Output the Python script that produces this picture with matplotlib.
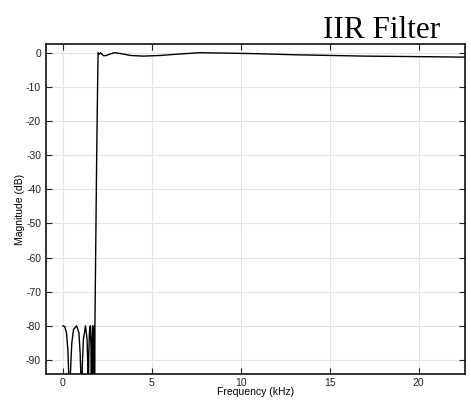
import matplotlib
matplotlib.use('Agg')
from matplotlib import pyplot as plt

# frequency (kHz) and magnitude (dB)
freq_khz = [0.0, 0.10, 0.20, 0.28, 0.33, 0.37, 0.42, 0.50, 0.60, 0.77, 0.90, 0.97, 1.02, 1.05,
            1.09, 1.15, 1.27, 1.36, 1.40, 1.42, 1.45, 1.49, 1.54, 1.58, 1.61, 1.63, 1.67,
            1.70, 1.72, 1.74, 1.76, 1.78, 1.80, 1.84, 1.90, 1.95, 1.98,
            2.05, 2.12, 2.20, 2.30, 2.45, 2.65, 2.90, 3.30, 3.80, 4.50, 5.50, 6.50, 7.70,
            9.0, 11.0, 13.0, 15.0, 17.0, 19.0, 21.0, 22.6]
mag_db = [-80.0, -80.2, -82.0, -87.0, -95.0, -130.0, -94.0, -85.0, -81.0, -80.0, -82.0, -88.0, -96.0, -130.0,
          -92.0, -84.0, -80.0, -84.0, -92.0, -130.0, -90.0, -82.0, -80.0, -86.0, -130.0, -86.0, -80.0,
          -88.0, -130.0, -85.0, -80.0, -130.0, -80.0, -60.0, -30.0, -10.0, 0.0,
          -0.4, 0.0, -0.5, -0.9, -0.8, -0.4, 0.0, -0.3, -0.8, -1.0, -0.8, -0.4, 0.0,
          -0.1, -0.3, -0.6, -0.8, -1.0, -1.1, -1.2, -1.3]

x_ticks = [0, 5, 10, 15, 20]
y_ticks = [0, -10, -20, -30, -40, -50, -60, -70, -80, -90]

plt.rcParams['font.family'] = ['Liberation Sans', 'DejaVu Sans']
plt.rcParams['axes.unicode_minus'] = False

fig = plt.figure(figsize=(4.71, 4.0), dpi=100)
ax = fig.add_axes([0.0977, 0.065, 0.889, 0.825])

ax.plot(freq_khz, mag_db, color='black', linewidth=1.0)

ax.set_xlim(-0.95, 22.6)
ax.set_ylim(-94.1, 2.55)
ax.set_xticks(x_ticks)
ax.set_yticks(y_ticks)
ax.grid(True, color='#e3e3e3', linewidth=0.8)
ax.set_axisbelow(True)
ax.tick_params(direction='in', length=4, width=0.8, labelsize=7.5,
               top=True, right=True, colors='#222222', labelcolor='#222222')
ax.tick_params(axis='x', pad=3)
for sp in ax.spines.values():
    sp.set_linewidth(1.2)
    sp.set_color('#111111')

ax.set_xlabel('Frequency (kHz)', fontsize=7.5, labelpad=-1)
ax.set_ylabel('Magnitude (dB)', fontsize=7.5, labelpad=1)

fig.text(440 / 471, 1 - 38 / 400, 'IIR Filter', ha='right', va='baseline',
         family=['Liberation Serif', 'DejaVu Serif'], fontsize=22.5)

fig.savefig('out.png', dpi=100)
